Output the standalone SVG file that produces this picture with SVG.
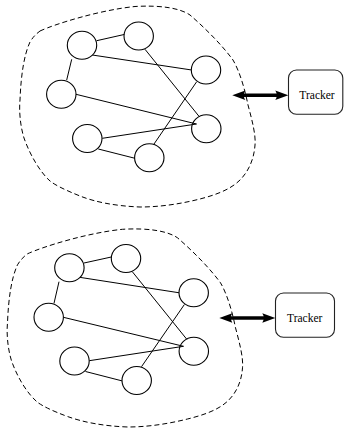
<svg xmlns="http://www.w3.org/2000/svg" width="344" height="429" viewBox="0 0 344 429">
  <style>
    .region { fill: none; stroke: #000; stroke-width: 1; stroke-dasharray: 5 3; }
    .peer { fill: #fff; stroke: #000; stroke-width: 1.1; }
    .link { stroke: #000; stroke-width: 1; fill: none; }
    .tracker { fill: #fff; stroke: #222; stroke-width: 1.1; }
    .label { font-family: "Liberation Serif", "Times New Roman", serif; font-size: 11.5px; fill: #000; text-anchor: middle; }
    .bi { stroke: #000; stroke-width: 3.6; fill: none; marker-start: url(#head); marker-end: url(#head); }
  </style>
  <defs>
    <marker id="head" markerUnits="userSpaceOnUse" orient="auto-start-reverse" refX="0" refY="0" markerWidth="16" markerHeight="12" viewBox="-5 -6 16 12" overflow="visible">
      <path d="M9,0 L-4,-4.8 Q-1,0 -4,4.8 Z" fill="#000"/>
    </marker>
  </defs>

  <!-- upper swarm -->
  <path class="region" d="M 40,31 C 55,24 100,10 135,6.5 C 160,5 180,8 190,15 C 205,28 222,45 233,60 C 240,72 245,90 248,105 C 252,120 256,135 255,145 C 254,160 248,172 240,180 C 230,190 215,195 200,199 C 180,204 160,207 140,207 C 115,206 95,202 80,196 C 65,190 55,185 50,181 C 40,172 30,155 24,138 C 20,125 19,110 20,100 C 21,75 24,55 30,42 C 33,37 36,34 40,31 Z"/>

  <!-- lower swarm -->
  <path class="region" d="M 27.5,253.8 C 42.5,246.8 87.5,232.8 122.5,229.3 C 147.5,227.8 167.5,230.8 177.5,237.8 C 192.5,250.8 209.5,267.8 220.5,282.8 C 227.5,294.8 232.5,312.8 235.5,327.8 C 239.5,342.8 243.5,357.8 242.5,367.8 C 241.5,382.8 235.5,393.8 227.5,401.3 C 217.5,410.5 202.5,415.3 187.5,419 C 167.5,424 147.5,427 127.5,427 C 102.5,426 82.5,422 67.5,416.5 C 52.5,411 42.5,406 37.5,402.3 C 27.5,393.8 17.5,377.8 11.5,360.8 C 7.5,347.8 6.5,332.8 7.5,322.8 C 8.5,297.8 11.5,277.8 17.5,264.8 C 20.5,259.8 23.5,256.8 27.5,253.8 Z"/>

  <g id="connectors">
    <!-- upper swarm links -->
    <line class="link" x1="96.7" y1="40.7" x2="125" y2="34.3"/>
    <line class="link" x1="92.3" y1="55" x2="191.7" y2="70"/>
    <line class="link" x1="71.7" y1="59.3" x2="66.7" y2="80"/>
    <line class="link" x1="145" y1="49.3" x2="199.3" y2="116.7"/>
    <line class="link" x1="76" y1="94.3" x2="196.5" y2="124"/>
    <line class="link" x1="102.3" y1="138.3" x2="196.5" y2="124"/>
    <line class="link" x1="196.7" y1="81.7" x2="154" y2="144"/>
    <line class="link" x1="98.3" y1="149" x2="135" y2="158.3"/>
    <!-- lower swarm links -->
    <line class="link" x1="84" y1="263" x2="112.2" y2="256.8"/>
    <line class="link" x1="79.6" y1="277.3" x2="179.3" y2="292.8"/>
    <line class="link" x1="59" y1="281.7" x2="54" y2="303.3"/>
    <line class="link" x1="132.3" y1="271.7" x2="186.8" y2="339.3"/>
    <line class="link" x1="63.4" y1="317.3" x2="183.5" y2="346.3"/>
    <line class="link" x1="89.3" y1="360.7" x2="183.5" y2="346.3"/>
    <line class="link" x1="184.4" y1="304.5" x2="141.5" y2="366.7"/>
    <line class="link" x1="85.5" y1="371.5" x2="122.5" y2="381"/>
    <!-- tracker exchanges -->
    <line class="bi" x1="241.3" y1="95.3" x2="279.3" y2="95.3"/>
    <line class="bi" x1="228.3" y1="318" x2="266.3" y2="318"/>
  </g>

  <!-- upper swarm peers -->
  <g id="peer-u1"><ellipse class="peer" cx="82" cy="45.3" rx="14.7" ry="14"/></g>
  <g id="peer-u2"><ellipse class="peer" cx="138.7" cy="36" rx="14.7" ry="14"/></g>
  <g id="peer-u3"><ellipse class="peer" cx="206" cy="70" rx="14.7" ry="14"/></g>
  <g id="peer-u4"><ellipse class="peer" cx="61.3" cy="94.2" rx="14.7" ry="14"/></g>
  <g id="peer-u5"><ellipse class="peer" cx="206.3" cy="128.7" rx="14.7" ry="14" fill="none" style="fill:none"/></g>
  <g id="peer-u6"><ellipse class="peer" cx="87.3" cy="138.5" rx="14.7" ry="14"/></g>
  <g id="peer-u7"><ellipse class="peer" cx="149.3" cy="157.8" rx="14.7" ry="14"/></g>

  <!-- lower swarm peers -->
  <g id="peer-l1"><ellipse class="peer" cx="69.4" cy="267.7" rx="14.7" ry="14"/></g>
  <g id="peer-l2"><ellipse class="peer" cx="126" cy="258.5" rx="14.7" ry="14"/></g>
  <g id="peer-l3"><ellipse class="peer" cx="193.7" cy="292.8" rx="14.7" ry="14"/></g>
  <g id="peer-l4"><ellipse class="peer" cx="48.7" cy="317.3" rx="14.7" ry="14"/></g>
  <g id="peer-l5"><ellipse class="peer" cx="193.8" cy="351.3" rx="14.7" ry="14" style="fill:none"/></g>
  <g id="peer-l6"><ellipse class="peer" cx="74.5" cy="361" rx="14.7" ry="14"/></g>
  <g id="peer-l7"><ellipse class="peer" cx="136.7" cy="380.5" rx="14.7" ry="14"/></g>

  <!-- trackers -->
  <g id="tracker-upper">
    <rect class="tracker" x="288.5" y="70" width="54.3" height="44.3" rx="8"/>
    <text class="label" x="317" y="98.5">Tracker</text>
  </g>
  <g id="tracker-lower">
    <rect class="tracker" x="275.5" y="293" width="59" height="44.3" rx="8"/>
    <text class="label" x="304.7" y="321.5">Tracker</text>
  </g>
</svg>
